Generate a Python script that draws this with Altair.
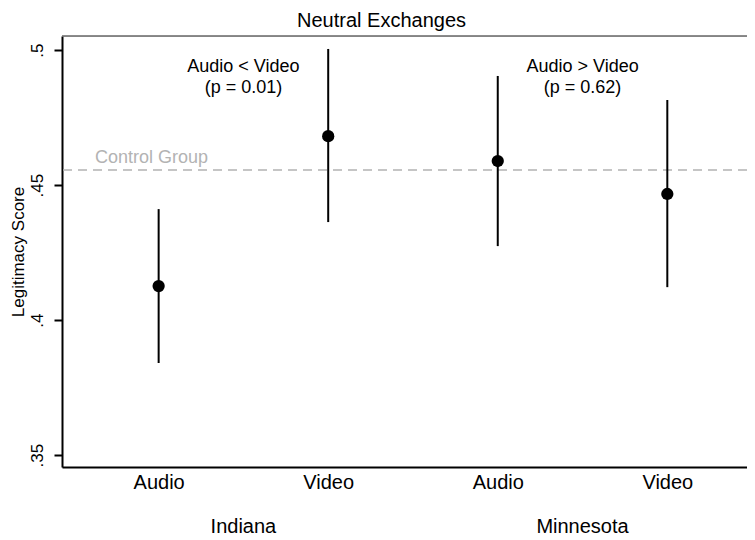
import altair as alt
import pandas as pd

# ---- data ----
regions = ["Indiana", "Indiana", "Minnesota", "Minnesota"]
modes = ["Audio", "Video", "Audio", "Video"]
positions = [1, 2, 3, 4]
means = [0.4126, 0.4681, 0.4589, 0.4467]
lower = [0.3841, 0.4363, 0.4274, 0.4122]
upper = [0.4411, 0.5004, 0.4904, 0.4815]
control_value = 0.4556

group_names = ["Indiana", "Minnesota"]
group_centers = [1.5, 3.5]
annotation_text = ["Audio < Video\n(p = 0.01)", "Audio > Video\n(p = 0.62)"]

y_ticks = [0.35, 0.40, 0.45, 0.50]

FONT = "Liberation Sans"
W, H = 685, 431

df = pd.DataFrame({"region": regions, "mode": modes, "pos": positions,
                   "mean": means, "lo": lower, "hi": upper})
ctrl = pd.DataFrame({"control": [control_value], "label": ["Control Group"]})
groups = pd.DataFrame({"x": group_centers, "name": group_names, "ann": annotation_text})

label_expr = "[" + ",".join(["''"] + [f"'{m}'" for m in modes]) + "][datum.value]"

xscale = alt.Scale(domain=[0.43, 4.47], nice=False, zero=False)
yscale = alt.Scale(domain=[0.3456, 0.5052], nice=False, zero=False)

xaxis = alt.Axis(values=positions, labelExpr=label_expr, ticks=False, grid=False,
                 labelPadding=5, labelFontSize=20, labelFont=FONT, labelColor="black",
                 domainColor="black", domainWidth=2, title=None,
                 labelFlush=False, labelOverlap=False)
yaxis = alt.Axis(values=y_ticks,
                 labelExpr="replace(format(datum.value, '.2~f'), '0.', '.')",
                 grid=False, labelAngle=270, labelAlign="center", labelBaseline="bottom",
                 labelPadding=8, tickSize=8, tickWidth=2, tickColor="black",
                 labelFontSize=17, labelFont=FONT, labelColor="black",
                 domainColor="black", domainWidth=2,
                 title="Legitimacy Score", titleFont=FONT, titleFontSize=17,
                 titleFontWeight="normal", titleColor="black", titlePadding=1)

base = alt.Chart(df)

bars = base.mark_rule(color="black", strokeWidth=2).encode(
    x=alt.X("pos:Q", scale=xscale, axis=xaxis),
    y=alt.Y("lo:Q", scale=yscale, axis=yaxis),
    y2="hi:Q",
)

points = base.mark_circle(color="black", size=150, opacity=1).encode(
    x=alt.X("pos:Q", scale=xscale),
    y=alt.Y("mean:Q", scale=yscale),
)

ctrl_line = alt.Chart(ctrl).mark_rule(color="#b3b3b3", strokeDash=[9, 6], strokeWidth=1.5).encode(
    y=alt.Y("control:Q", scale=yscale),
)

ctrl_text = alt.Chart(ctrl).mark_text(align="left", baseline="bottom", dy=-3,
                                      font=FONT, fontSize=18, color="#b3b3b3").encode(
    x=alt.value(33),
    y=alt.Y("control:Q", scale=yscale),
    text="label:N",
)

ann = alt.Chart(groups).mark_text(align="center", baseline="top", lineBreak="\n",
                                  lineHeight=21, font=FONT, fontSize=18, color="black").encode(
    x=alt.X("x:Q", scale=xscale),
    y=alt.value(22),
    text="ann:N",
)

grp = alt.Chart(groups).mark_text(align="center", baseline="middle",
                                  font=FONT, fontSize=20, color="black").encode(
    x=alt.X("x:Q", scale=xscale),
    y=alt.value(H + 60),
    text="name:N",
)

top_border = alt.Chart(ctrl).mark_rule(color="#666666", strokeWidth=1.5).encode(
    y=alt.value(0), x=alt.value(0), x2=alt.value(W),
)

chart = alt.layer(top_border, ctrl_line, ctrl_text, bars, points, ann, grp).properties(
    width=W, height=H,
    title=alt.TitleParams("Neutral Exchanges", font=FONT, fontSize=20, fontWeight="normal",
                          color="black", anchor="middle", dx=-23, offset=4),
    autosize=alt.AutoSizeParams(type="none"),
    padding={"left": 54, "top": 28, "right": 0, "bottom": 70},
).configure_view(stroke=None).configure(background="white")

chart.save("out.html", embed_options={"renderer": "svg", "actions": False})
